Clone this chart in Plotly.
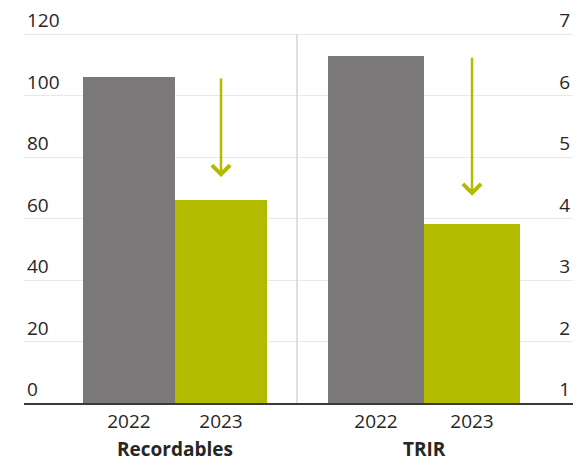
import plotly.graph_objects as go

years = ["2022", "2023"]
recordables = [106, 66]
trir = [6.64, 3.91]
bar_colors = ["#7a7879", "#b2bb00"]
panel_titles = ["Recordables", "TRIR"]
left_ticks = [0, 20, 40, 60, 80, 100, 120]
right_ticks = [1, 2, 3, 4, 5, 6, 7]
arrow_left = (106, 73.5)
arrow_right = (6.64, 4.37)

FONT = "Open Sans"
TXT = "#262626"
GREEN = "#b2bb00"

TOP = 0
BOTTOM_PX = 403
ph = BOTTOM_PX - TOP
ytop_left = 120 * ph / 369
ytop_right = 1 + 6 * ph / 369

fig = go.Figure()
fig.add_trace(go.Bar(x=years, y=recordables, marker=dict(color=bar_colors, line=dict(width=0)),
                     width=1, xaxis="x", yaxis="y", hoverinfo="skip"))
fig.add_trace(go.Bar(x=years, y=trir, marker=dict(color=bar_colors, line=dict(width=0)),
                     width=1, xaxis="x2", yaxis="y2", hoverinfo="skip"))

split = (297 - 24) / 549

fig.update_layout(
    width=585, height=461,
    margin=dict(l=24, r=12, t=TOP, b=461 - BOTTOM_PX),
    paper_bgcolor="white", plot_bgcolor="white",
    showlegend=False, bargap=0,
    font=dict(family=FONT, size=19, color=TXT),
    xaxis=dict(domain=[0, split], type="category", range=[-1.141, 1.826],
               showline=True, linecolor="#3a3a3a", linewidth=1.5,
               showgrid=False, ticks="", tickfont=dict(size=19, color=TXT)),
    xaxis2=dict(domain=[split, 1], type="category", range=[-0.823, 2.052],
                showline=True, linecolor="#3a3a3a", linewidth=1.5,
                showgrid=False, ticks="", tickfont=dict(size=19, color=TXT), anchor="y2"),
    yaxis=dict(range=[0, ytop_left], tickvals=left_ticks, showgrid=True, gridcolor="#e9e9e9",
               gridwidth=1.2, zeroline=False, ticklabelposition="inside top",
               tickfont=dict(size=19, color=TXT), anchor="x"),
    yaxis2=dict(range=[1, ytop_right], tickvals=right_ticks, showgrid=True, gridcolor="#e9e9e9",
                gridwidth=1.2, zeroline=False, side="right", ticklabelposition="inside top",
                tickfont=dict(size=19, color=TXT), anchor="x2"),
)

fig.add_shape(type="line", xref="x2 domain", yref="y2", x0=0, x1=0, y0=1, y1=7,
              line=dict(color="#d4d4d4", width=1.5))

for xr, title in [("x", panel_titles[0]), ("x2", panel_titles[1])]:
    fig.add_annotation(x=0.5, xref=xr, y=-0.113, yref="paper", text="<b>" + title + "</b>",
                       showarrow=False, yanchor="middle", font=dict(size=19, color=TXT))

for xr, yr, (y0, y1) in [("x", "y", arrow_left), ("x2", "y2", arrow_right)]:
    fig.add_annotation(x=1, y=y1, xref=xr, yref=yr, ax=1, ay=y0,
                       axref=xr, ayref=yr, showarrow=True, arrowhead=4, arrowsize=1.4,
                       arrowwidth=2.5, arrowcolor=GREEN, text="")

fig.write_html("out.html")
